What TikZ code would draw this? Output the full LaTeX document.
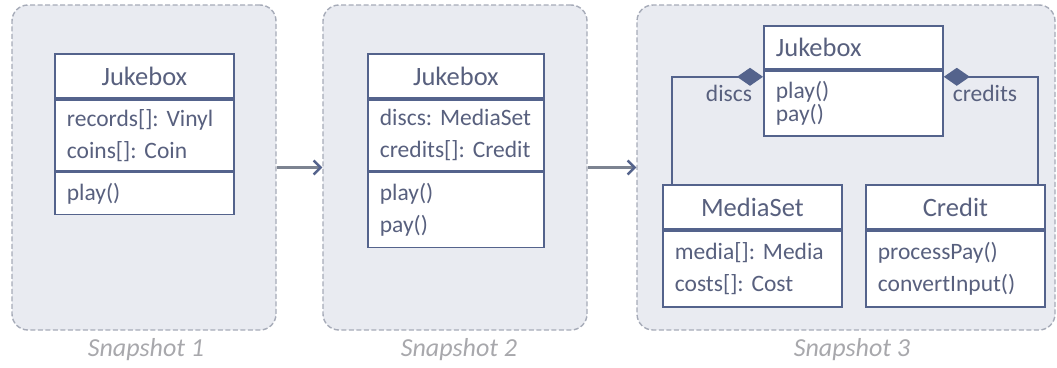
\documentclass[tikz,border=0pt]{standalone}
\usepackage{fontspec}
\setmainfont{Carlito}
\usetikzlibrary{positioning,arrows.meta}
\definecolor{umlline}{RGB}{84,99,140}
\definecolor{umltext}{RGB}{88,96,126}
\definecolor{snapfill}{RGB}{233,235,241}
\definecolor{snapedge}{RGB}{166,171,184}
\definecolor{flowgray}{RGB}{124,131,145}
\definecolor{captgray}{RGB}{168,168,172}
\newcommand{\classfont}{\frenchspacing\fontsize{23.5}{32}\selectfont}
\newcommand{\namefont}{\fontsize{26.5}{32}\selectfont}
\begin{document}
\begin{tikzpicture}[x=1pt,y=-1pt,
  snap/.style={draw=snapedge,fill=snapfill,line width=1.4pt,dash pattern=on 5pt off 2.5pt,
    rounded corners=16pt,minimum width=#1,minimum height=325pt,inner sep=0pt},
  cname/.style={draw=umlline,fill=white,line width=1.8pt,text=umltext,font=\namefont,
    minimum width=179pt,minimum height=44pt,inner sep=0pt,anchor=north west},
  cpart/.style={cname,font=\classfont,align=left,text width=155pt,inner xsep=12pt},
  flow/.style={draw=flowgray,line width=2.4pt,-{Straight Barb[length=7pt,width=14pt,color=umlline]}},
  comp/.style={draw=umlline,line width=1.8pt,{Diamond[length=26pt,width=18pt]}-},
  role/.style={text=umltext,font=\classfont,anchor=base},
  caption/.style={text=captgray,font=\itshape\fontsize{26}{30}\selectfont,anchor=base}]
\useasboundingbox (0,0) rectangle (1057,367);

\node[snap=264pt] (snap1) at (144,167.5) {};
\node[snap=264pt] (snap2) at (455,167.5) {};
\node[snap=418pt] (snap3) at (846,167.5) {};
\draw[flow] (snap1) -- (snap2);
\draw[flow] (snap2) -- (snap3);
\node[caption] (cap1) at (146,356) {Snapshot 1};
\node[caption] (cap2) at (459,356) {Snapshot 2};
\node[caption] (cap3) at (852,356) {Snapshot 3};

\node[cname] (jb1) at (54,53) {Jukebox};
\node[cpart,minimum height=71pt,below=0pt of jb1] (jb1attr) {records[]: Vinyl\\coins[]: Coin};
\node[cpart,minimum height=42pt,below=0pt of jb1attr] (jb1meth) {play()};

\node[cname,minimum width=176pt] (jb2) at (367,53) {Jukebox};
\node[cpart,text width=152pt,minimum width=176pt,minimum height=71pt,below=0pt of jb2] (jb2attr) {discs: MediaSet\\credits[]: Credit};
\node[cpart,text width=152pt,minimum width=176pt,minimum height=75pt,below=0pt of jb2attr] (jb2meth) {play()\\pay()};

\node[cpart,font=\namefont,minimum height=43pt] (jb3) at (763,25) {Jukebox};
\node[cpart,minimum height=65pt,font=\fontsize{23.5}{23}\selectfont,below=0pt of jb3] (jb3meth) {play()\\pay()};

\node[cname] (ms) at (662,184) {MediaSet};
\node[cpart,minimum height=76pt,below=0pt of ms] (msattr) {media[]: Media\\costs[]: Cost};
\node[cname] (cr) at (865,184) {Credit};
\node[cpart,minimum height=76pt,below=0pt of cr] (crmeth) {processPay()\\convertInput()};

\draw[comp] ([yshift=-7pt]jb3meth.north west) -| ([xshift=10pt]ms.north west);
\draw[comp] ([yshift=-7pt]jb3meth.north east) -| ([xshift=-8pt]cr.north east);
\node[role] (discs) at (729,101) {discs};
\node[role] (credits) at (985,101) {credits};
\end{tikzpicture}
\end{document}
